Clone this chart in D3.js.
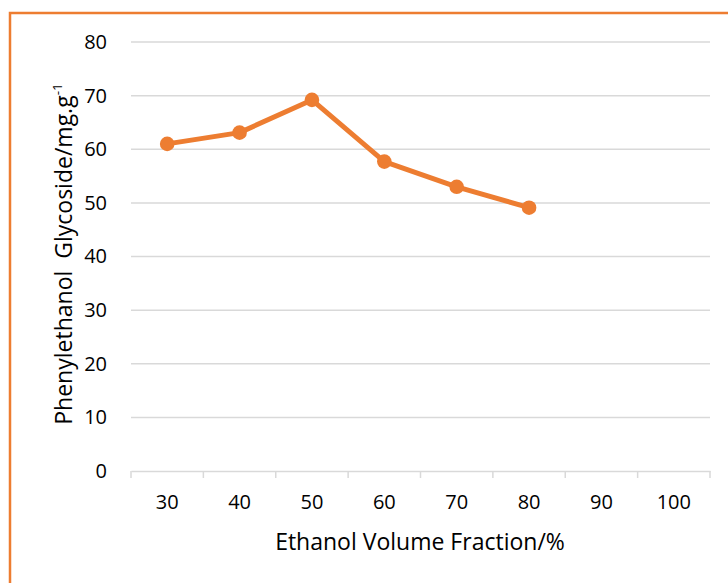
<!DOCTYPE html>
<html><head><meta charset="utf-8">
<script src="https://cdn.jsdelivr.net/npm/d3@7"></script>
<style>body{margin:0;background:#fff;}svg{display:block;font-family:"Open Sans", sans-serif;}</style>
</head><body>
<svg id="c" width="728" height="583"></svg>
<script>
const categories = ["30","40","50","60","70","80","90","100"];
const values = [61.0, 63.1, 69.2, 57.7, 53.0, 49.1];
const yTicks = [0,10,20,30,40,50,60,70,80];
const xTitle = "Ethanol Volume Fraction/%";
const yTitle = "Phenylethanol\u00a0 Glycoside/mg.g";

const svg = d3.select("#c");
const color = "#ED7D31";
svg.append("rect").attr("x",10).attr("y",13).attr("width",740).attr("height",600)
  .attr("fill","none").attr("stroke",color).attr("stroke-width",2.5);

const m = {l:131, r:710, t:42, b:471};
const x = d3.scaleBand().domain(categories).range([m.l,m.r]);
const y = d3.scaleLinear().domain([0,80]).range([m.b,m.t]);

const g = svg.append("g");
g.selectAll("line.grid").data(yTicks.slice(1)).join("line")
  .attr("x1",m.l).attr("x2",m.r).attr("y1",d=>y(d)).attr("y2",d=>y(d))
  .attr("stroke","#d9d9d9").attr("stroke-width",1.5);

const xAxis = g.append("g").attr("transform",`translate(0,${m.b})`)
  .call(d3.axisBottom(x).tickSize(0).tickPadding(24));
xAxis.select(".domain").attr("stroke","#d9d9d9").attr("stroke-width",1.5);
xAxis.selectAll("text").attr("font-size",20).attr("fill","#000").attr("font-family","'Open Sans', sans-serif");
const bounds = categories.map(c=>x(c)).concat([m.r]);
g.selectAll("line.xt").data(bounds).join("line")
  .attr("x1",d=>d).attr("x2",d=>d).attr("y1",m.b).attr("y2",m.b+7)
  .attr("stroke","#d9d9d9").attr("stroke-width",1.5);

const yAxis = g.append("g").attr("transform",`translate(${m.l},0)`)
  .call(d3.axisLeft(y).tickValues(yTicks).tickSize(0).tickPadding(24));
yAxis.select(".domain").remove();
yAxis.selectAll("text").attr("font-size",20).attr("fill","#000").attr("font-family","'Open Sans', sans-serif");

const pts = values.map((v,i)=>({c:categories[i], v}));
const line = d3.line().x(d=>x(d.c)+x.bandwidth()/2).y(d=>y(d.v));
g.append("path").datum(pts).attr("d",line).attr("fill","none")
  .attr("stroke",color).attr("stroke-width",5).attr("stroke-linejoin","round");
g.selectAll("circle").data(pts).join("circle")
  .attr("cx",d=>x(d.c)+x.bandwidth()/2).attr("cy",d=>y(d.v)).attr("r",7.3).attr("fill",color);

svg.append("text").attr("x",420).attr("y",550).attr("text-anchor","middle")
  .attr("font-size",23).attr("fill","#000").text(xTitle);

const yt = svg.append("text").attr("transform","translate(72,254) rotate(-90)")
  .attr("text-anchor","middle").attr("font-size",23).attr("fill","#000");
yt.append("tspan").text(yTitle);
yt.append("tspan").attr("font-size",13.5).attr("dy",-10).text("-1");
</script>
</body></html>
